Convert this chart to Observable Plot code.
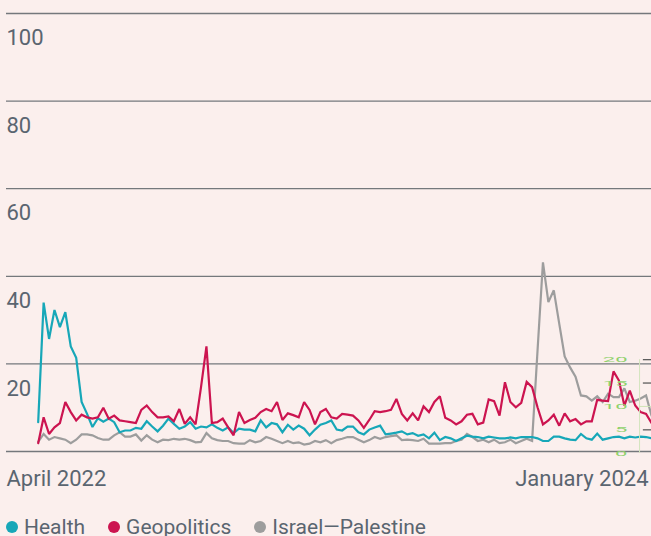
<!DOCTYPE html>
<html><head><meta charset="utf-8">
<script src="https://cdn.jsdelivr.net/npm/d3@7"></script>
<script src="https://cdn.jsdelivr.net/npm/@observablehq/plot@0.6"></script>
<style>
html,body{margin:0;padding:0;background:#fbefed;}
body{width:651px;height:536px;overflow:hidden;font-family:Roboto, sans-serif;}
#legend{display:flex;padding-left:6px;padding-top:12px;height:30px;align-items:center;font-size:21px;color:#5a6570;white-space:nowrap;}
.item{display:flex;align-items:center;margin-right:23px;}
.dot{width:12px;height:12px;border-radius:50%;margin-right:6px;}
</style></head><body><div id="chart"></div><div id="legend"></div>
<script>
const seriesNames = ["Health", "Geopolitics", "Israel—Palestine"];
const seriesColors = ["#17a7b8", "#cc1450", "#9d9d9d"];
const health = [6.7,34,25.7,32.3,28.4,31.8,24,21.4,11.3,8.6,5.6,7.6,6.8,7.5,6.7,4.4,4.8,4.8,5.4,5.2,6.9,5.7,4.6,5.9,7.5,6.3,5.2,5.7,6.7,5.2,5.7,5.5,6.2,5.4,4.8,5.5,4.2,5.2,5.0,5.0,4.6,7.1,5.5,6.5,6.2,4.4,6.1,5.0,5.9,5.2,3.7,5.0,6.1,6.5,7.1,5.0,4.8,5.7,5.7,4.4,3.9,5.0,5.5,5.9,3.9,4.1,4.3,4.6,3.9,4.2,3.6,3.9,3.0,4.3,2.6,3.3,3.0,2.4,3.0,3.6,3.4,3.3,3.0,3.4,3.2,3.0,3.0,3.2,3.0,3.3,3.3,3.3,3.0,2.4,2.4,3.4,3.4,3.0,2.7,2.6,4.0,3.0,2.7,4.1,2.7,3.0,3.3,3.4,3.0,3.4,3.2,3.4,3.3,3.0];
const geopolitics = [1.9,7.8,4.0,5.5,6.5,11.3,9.0,7.1,8.4,7.8,7.5,7.8,10.0,7.5,8.2,7.1,6.9,6.7,6.5,9.5,10.5,9.0,7.8,7.8,8.0,6.9,9.7,6.3,7.8,6.2,14.7,24,6.5,6.7,7.5,5.5,3.7,9.0,6.5,7.2,7.7,9.0,9.7,9.2,11.3,7.2,8.7,8.3,7.8,11.3,9.5,6.2,9.0,9.7,7.8,7.5,8.6,8.4,8.2,7.1,5.4,7.2,9.2,9.0,9.2,9.5,12.0,8.6,7.1,8.7,7.1,10.3,9.0,11.3,12.6,7.7,7.1,6.2,6.9,8.4,8.6,6.2,6.6,11.9,11.5,8.2,15.8,11.3,10.1,11.1,15.9,14.7,10.1,6.2,7.1,8.4,5.9,8.7,6.9,7.4,6.2,6.9,6.9,11.8,11.6,11.5,18.3,16.2,10.5,13.9,10.5,9.0,8.6,6.5];
const israelPalestine = [2.2,4.0,2.7,3.3,3.0,2.7,1.9,2.7,3.9,3.9,3.7,3.1,2.7,2.7,3.7,4.4,3.4,3.4,3.9,2.5,3.7,2.7,2.1,2.7,2.6,2.9,2.7,2.9,2.6,2.1,2.2,4.2,3.0,2.6,2.4,2.4,1.9,1.8,1.8,2.6,2.1,2.4,3.3,2.9,2.4,1.9,2.4,1.9,2.1,1.6,1.8,2.4,2.1,2.6,1.9,2.6,2.9,3.3,3.3,2.7,2.1,2.6,3.3,2.9,3.3,3.5,3.7,2.6,2.7,2.6,2.4,2.9,1.8,1.8,1.8,1.9,1.9,2.4,2.7,4.0,3.3,2.4,2.7,2.1,2.7,1.9,2.1,2.7,1.9,2.4,2.9,2.4,23,43.2,34.1,36.8,29.2,21.7,19.2,17.1,12.8,12.6,11.6,12.6,11.3,13.2,12.4,12.4,14.4,11.3,11.6,12.1,12.8,8.2];
const yTicks = [0, 20, 40, 60, 80, 100];
const xLabels = ["April 2022", "January 2024"];
const insetTicks = [0, 5, 10, 15, 20];

const seriesValues = [health, geopolitics, israelPalestine];
const N = health.length;
const rows = [];
[2, 0, 1].forEach(k => seriesValues[k].forEach((v, i) => rows.push({i, v, s: seriesNames[k]})));
const insetY = t => -0.39 + 1.068 * t;
const textColor = "#5a6570";

const plot = Plot.plot({
  width: 651, height: 500,
  marginLeft: 6, marginRight: 0, marginTop: 13, marginBottom: 49,
  x: {domain: [-5.84, N - 1], axis: null},
  y: {domain: [0, 100], axis: null},
  color: {domain: seriesNames, range: seriesColors},
  style: {background: "#fbefed", fontFamily: "Roboto, sans-serif", overflow: "visible"},
  marks: [
    Plot.ruleY(yTicks, {stroke: "#74787c", strokeWidth: 1.3}),
    Plot.text(yTicks.filter(d => d > 0), {y: d => d, text: d => String(d), frameAnchor: "left", textAnchor: "start", lineAnchor: "top", dy: 16, fontSize: 22, fill: textColor}),
    Plot.text([xLabels[0]], {frameAnchor: "bottom-left", textAnchor: "start", lineAnchor: "top", dy: 19, fontSize: 22, fill: textColor}),
    Plot.text([xLabels[1]], {frameAnchor: "bottom-right", textAnchor: "end", lineAnchor: "top", dy: 19, dx: -3, fontSize: 22, fill: textColor}),
    Plot.line(rows, {x: "i", y: "v", z: "s", stroke: "s", strokeWidth: 2.2, strokeLinejoin: "miter", strokeMiterlimit: 2}),
    // small secondary scale at the right edge
    Plot.ruleX([N - 3.2], {y1: insetY(0), y2: insetY(20), stroke: "#d3e4bd", strokeWidth: 1}),
    Plot.ruleY([10], {y: d => insetY(d), x1: N - 3.2, x2: N - 1, stroke: "#cfe3b5", strokeWidth: 1}),
    Plot.ruleY([5, 15, 20], {y: d => insetY(d), x1: N - 2.5, x2: N - 1, stroke: "#5d5d5d", strokeWidth: 1.3}),
    Plot.text(insetTicks, {y: d => insetY(d), text: d => String(d), frameAnchor: "right", textAnchor: "end", dx: -24, fontSize: 10, fill: "#8fd16c", className: "inset-lab"})
  ]
});
document.getElementById("chart").appendChild(plot);
d3.select(plot).selectAll(".inset-lab text").each(function() {
  const t = this.getAttribute("transform") || "";
  this.setAttribute("transform", t + " scale(2.2,0.8)");
});

const legend = d3.select("#legend");
seriesNames.forEach((name, k) => {
  const it = legend.append("div").attr("class", "item");
  it.append("div").attr("class", "dot").style("background", seriesColors[k]);
  it.append("span").text(name);
});
</script></body></html>
